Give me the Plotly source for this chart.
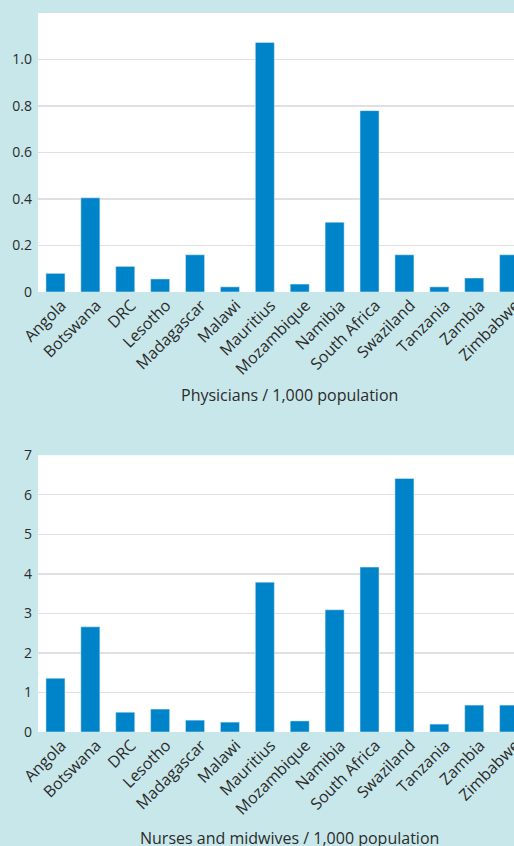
import plotly.graph_objects as go

countries = ["Angola", "Botswana", "DRC", "Lesotho", "Madagascar", "Malawi",
             "Mauritius", "Mozambique", "Namibia", "South Africa", "Swaziland",
             "Tanzania", "Zambia", "Zimbabwe"]
physicians = [0.08, 0.405, 0.11, 0.056, 0.16, 0.022, 1.073, 0.034, 0.30, 0.78,
              0.16, 0.022, 0.06, 0.16]
nurses = [1.36, 2.66, 0.50, 0.58, 0.30, 0.25, 3.79, 0.28, 3.09, 4.17, 6.41,
          0.20, 0.68, 0.68]

phys_tickvals = [0, 0.2, 0.4, 0.6, 0.8, 1.0]
phys_ticktext = ["0", "0.2", "0.4", "0.6", "0.8", "1.0"]
nurse_tickvals = [0, 1, 2, 3, 4, 5, 6, 7]
nurse_ticktext = ["0", "1", "2", "3", "4", "5", "6", "7"]

title_top = "Physicians / 1,000 population"
title_bottom = "Nurses and midwives / 1,000 population"

BAR = "#0084c9"
BG = "#c8e7ea"
GRID = "#e0e0e0"
TXT = "#2b2b2b"
FONT = "Open Sans"

fig = go.Figure()
fig.add_trace(go.Bar(x=countries, y=physicians, marker_color=BAR, width=0.545,
                     xaxis="x", yaxis="y", showlegend=False))
fig.add_trace(go.Bar(x=countries, y=nurses, marker_color=BAR, width=0.545,
                     xaxis="x2", yaxis="y2", showlegend=False))

xcommon = dict(type="category", range=[-0.5, 13.14], showgrid=False,
               zeroline=False, showline=False, ticks="", tickangle=-45,
               tickfont=dict(family=FONT, size=16, color=TXT),
               ticklabelshift=6, automargin=False, fixedrange=True)
ycommon = dict(showgrid=True, gridcolor=GRID, gridwidth=1.5, zeroline=False,
               showline=False, ticks="", tickfont=dict(family=FONT, size=14, color=TXT),
               ticklabelstandoff=5, automargin=False, fixedrange=True)

fig.update_layout(
    width=514, height=846,
    margin=dict(l=38, r=0, t=13, b=114, autoexpand=False),
    paper_bgcolor=BG, plot_bgcolor="white",
    font=dict(family=FONT, color=TXT),
    bargap=0.2,
    xaxis=dict(domain=[0, 1], anchor="y", **xcommon),
    yaxis=dict(domain=[0.612, 1], anchor="x", range=[0, 1.2],
               tickvals=phys_tickvals, ticktext=phys_ticktext, **ycommon),
    xaxis2=dict(domain=[0, 1], anchor="y2", **xcommon),
    yaxis2=dict(domain=[0, 0.385], anchor="x2", range=[0, 7],
                tickvals=nurse_tickvals, ticktext=nurse_ticktext, **ycommon),
    annotations=[
        dict(text=title_top, xref="paper", yref="paper", x=0.529, y=0.612,
             yshift=-103, showarrow=False, xanchor="center", yanchor="middle",
             font=dict(family=FONT, size=16, color=TXT)),
        dict(text=title_bottom, xref="paper", yref="paper", x=0.529, y=0,
             yshift=-106, showarrow=False, xanchor="center", yanchor="middle",
             font=dict(family=FONT, size=16, color=TXT)),
    ],
)

fig.write_html(
    "out.html",
    config={"displayModeBar": False, "staticPlot": True},
    post_script="document.body.style.margin='0';"
                "document.body.style.background='" + BG + "';",
)
